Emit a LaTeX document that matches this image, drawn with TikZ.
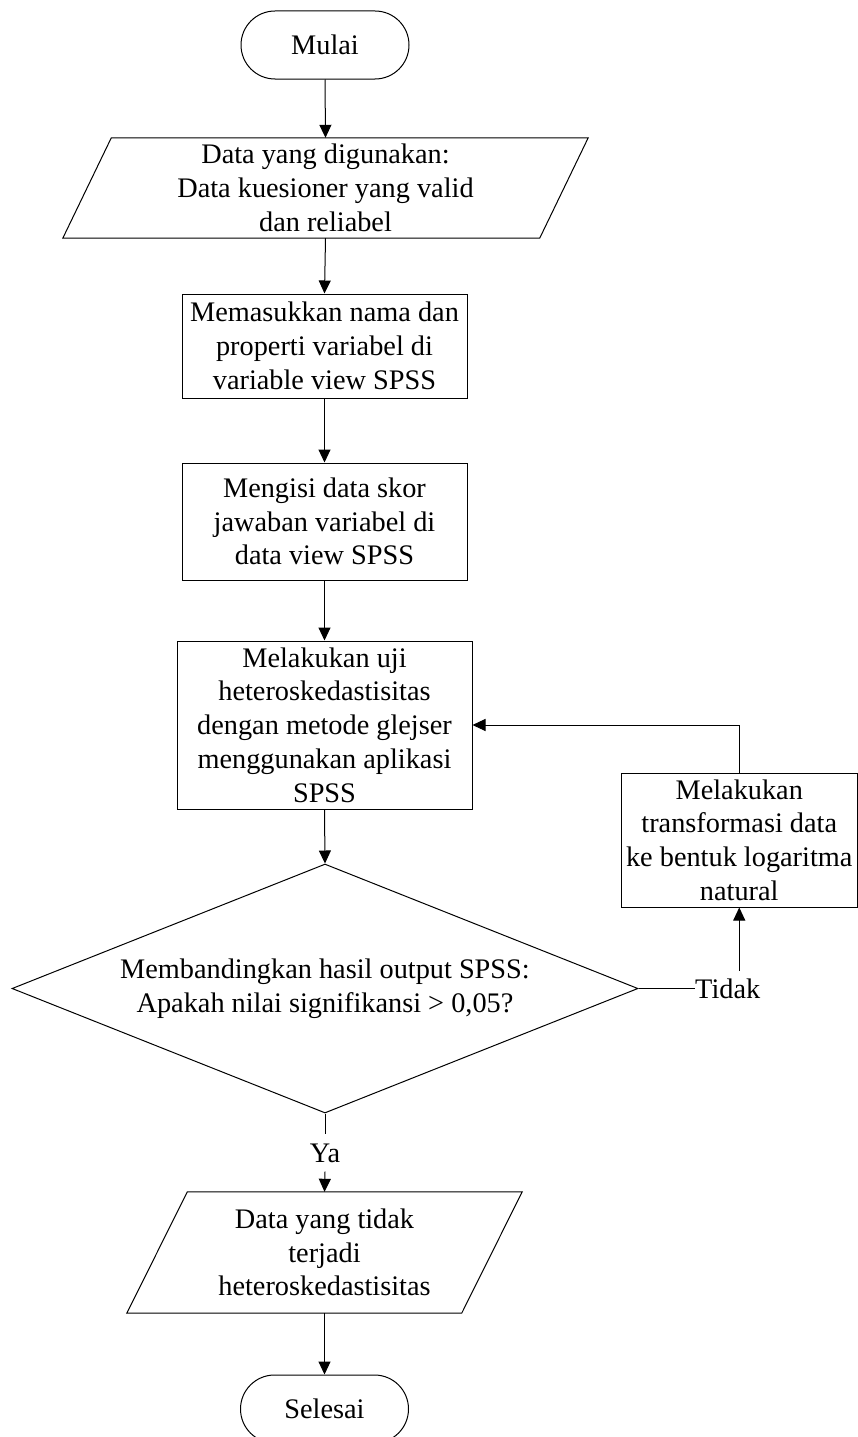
\documentclass[tikz,border=0pt]{standalone}
\usepackage{fontspec}
\setmainfont{Liberation Serif}
\usetikzlibrary{shapes.geometric,shapes.misc,arrows.meta}
\begin{document}
\begin{tikzpicture}[x=1pt,y=-1pt,
  every node/.style={font=\fontsize{28.3}{33.7}\selectfont, align=center, inner sep=0pt},
  line/.style={line width=1pt, draw=black},
  arr/.style={line, -{Triangle[width=12pt,length=13pt]}},
  term/.style={rounded rectangle, line, minimum width=168pt, minimum height=68pt},
  procbox/.style={rectangle, line},
  iobox/.style={rectangle},
  decision/.style={diamond, line, aspect=2.5, minimum width=626pt, minimum height=249pt}
]
\useasboundingbox (0,0) rectangle (858,1437);
\fill[white] (0,0) rectangle (858,1437);

% nodes
\node[term] (start) at (325,45) {Mulai};
\node[iobox, minimum width=525pt, minimum height=100pt] (p1) at (325.5,188)
  {Data yang digunakan:\\Data kuesioner yang valid\\dan reliabel};
\node[procbox, minimum width=285pt, minimum height=104pt] (b2) at (324.5,346)
  {Memasukkan nama dan\\properti variabel di\\variable view SPSS};
\node[procbox, minimum width=285pt, minimum height=117pt] (b3) at (324.5,521.5)
  {Mengisi data skor\\jawaban variabel di\\data view SPSS};
\node[procbox, minimum width=295pt, minimum height=168pt] (b4) at (324.5,725)
  {Melakukan uji\\heteroskedastisitas\\dengan metode glejser\\menggunakan aplikasi\\SPSS};
\node[decision] (dia) at (325,988.5)
  {Membandingkan hasil output SPSS:\\Apakah nilai signifikansi > 0,05?};
\node[inner xsep=0pt, inner ysep=9pt, text height=19pt, text depth=0pt] (ya) at (325,1153) {Ya};
\node[iobox, minimum width=395pt, minimum height=121pt] (p2) at (324.5,1252.5)
  {Data yang tidak\\terjadi\\heteroskedastisitas};
\node[term] (end) at (324.5,1409) {Selesai};
\node[procbox, minimum width=236.5pt, minimum height=134pt] (b5) at (739.25,840)
  {Melakukan\\transformasi data\\ke bentuk logaritma\\natural};
\node[anchor=west, inner xsep=0pt, inner ysep=8pt, text height=19pt, text depth=0pt] (tidak) at (695,988.5) {Tidak};

% parallelograms
\draw[line] (p1.south west) -- ([xshift=48.5pt]p1.north west) -- (p1.north east) -- ([xshift=-48.5pt]p1.south east) -- cycle;
\draw[line] (p2.south west) -- ([xshift=60.5pt]p2.north west) -- (p2.north east) -- ([xshift=-60.5pt]p2.south east) -- cycle;

% connectors
\draw[arr] (start.south) -- (p1.north);
\draw[arr] (p1.south) -- (b2.north);
\draw[arr] (b2.south) -- (b3.north);
\draw[arr] (b3.south) -- (b4.north);
\draw[arr] (b4.south) -- (dia.north);
\draw[line] (dia.south) -- (ya.north);
\draw[arr] (ya.south) -- (p2.north);
\draw[arr] (p2.south) -- (end.north);
\draw[line] (dia.east) -- (tidak.west);
\draw[arr] (tidak.north -| b5.south) -- (b5.south);
\draw[arr] (b5.north) |- (b4.east);
\end{tikzpicture}
\end{document}
